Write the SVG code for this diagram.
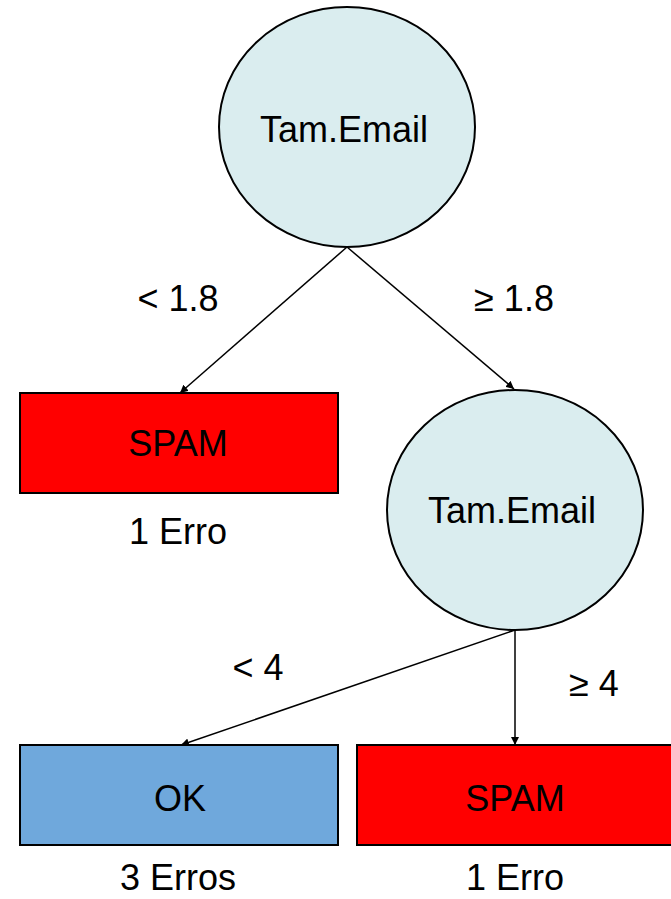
<svg xmlns="http://www.w3.org/2000/svg" width="671" height="899" viewBox="0 0 671 899">
<style>
text{font-family:"Liberation Sans",Arial,sans-serif;font-size:36px;fill:#000;text-anchor:middle}
.dec{fill:#daedef;stroke:#000;stroke-width:2}
.spam{fill:#ff0000;stroke:#000;stroke-width:2}
.ok{fill:#6fa8dc;stroke:#000;stroke-width:2}
.edge{stroke:#000;stroke-width:1.5;fill:none;marker-end:url(#arr)}
</style>
<defs>
<marker id="arr" viewBox="0 0 10 10" refX="10" refY="5" markerWidth="8" markerHeight="8" markerUnits="userSpaceOnUse" orient="auto">
<path d="M0,0 L10,5 L0,10 z" fill="#000"/>
</marker>
</defs>
<rect width="671" height="899" fill="#fff"/>
<g id="connectors">
<line class="edge" x1="347" y1="247" x2="180" y2="393"/>
<line class="edge" x1="347" y1="247" x2="514" y2="389"/>
<line class="edge" x1="515" y1="630" x2="181" y2="745"/>
<line class="edge" x1="515" y1="630" x2="515" y2="745"/>
<text x="178" y="311">&lt; 1.8</text>
<text x="514" y="311">≥ 1.8</text>
<text x="258" y="680">&lt; 4</text>
<text x="594" y="696">≥ 4</text>
</g>
<g id="root">
<ellipse class="dec" cx="347" cy="127" rx="128" ry="120"/>
<text x="344" y="142">Tam.Email</text>
</g>
<g id="spam1">
<rect class="spam" x="20" y="393" width="318" height="100"/>
<text x="178" y="456">SPAM</text>
<text x="178" y="544">1 Erro</text>
</g>
<g id="node2">
<ellipse class="dec" cx="515" cy="510" rx="128" ry="120"/>
<text x="512" y="523">Tam.Email</text>
</g>
<g id="ok">
<rect class="ok" x="20" y="745" width="318" height="100"/>
<text x="180" y="811">OK</text>
<text x="178" y="890">3 Erros</text>
</g>
<g id="spam2">
<rect class="spam" x="357" y="745" width="316" height="100"/>
<text x="515" y="811">SPAM</text>
<text x="515" y="890">1 Erro</text>
</g>
</svg>
